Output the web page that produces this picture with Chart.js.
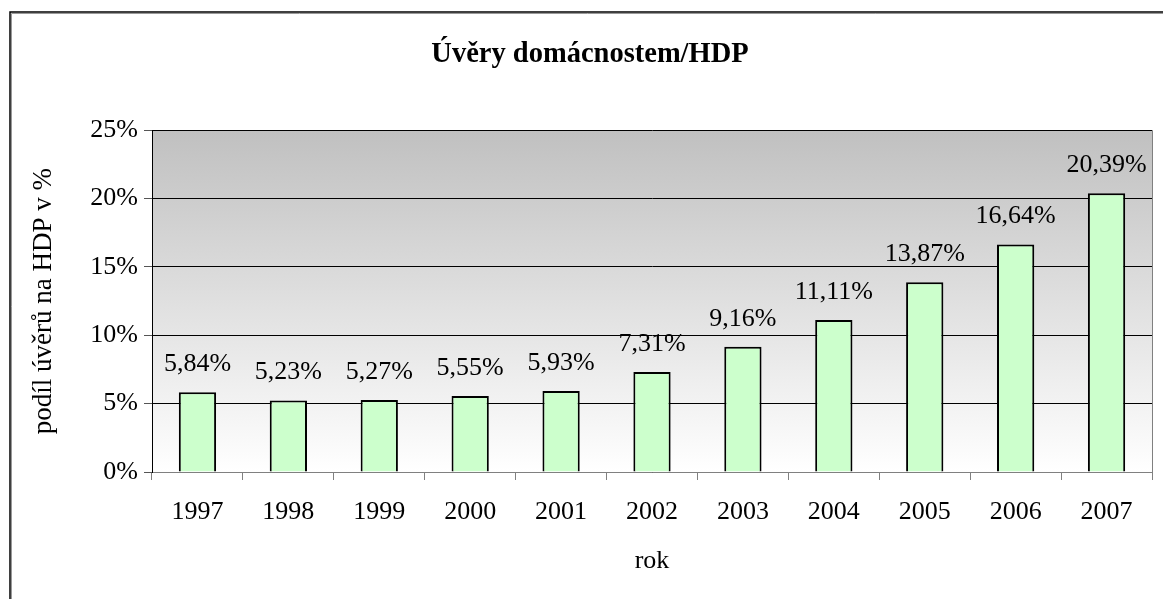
<!DOCTYPE html>
<html>
<head>
<meta charset="utf-8">
<script src="https://cdn.jsdelivr.net/npm/chart.js@4.4.0/dist/chart.umd.min.js"></script>
<style>
html, body { margin: 0; padding: 0; background: #fff; }
</style>
</head>
<body>
<canvas id="myChart" width="1163" height="599"></canvas>
<script>
let years = ['1997', '1998', '1999', '2000', '2001', '2002', '2003', '2004', '2005', '2006', '2007'];
let podil = [5.84, 5.23, 5.27, 5.55, 5.93, 7.31, 9.16, 11.11, 13.87, 16.64, 20.39];
let yMin = 0, yMax = 25, yStep = 5;

const serif = "'Liberation Serif', 'Times New Roman', serif";
Chart.defaults.font.family = serif;
Chart.defaults.color = '#000';

// background: outer frame + gray-to-white gradient in plot area
const bgPlugin = {
    id: 'bg',
    beforeDraw(chart) {
        const {ctx, chartArea: a} = chart;
        ctx.save();
        ctx.fillStyle = '#fff';
        ctx.fillRect(0, 0, chart.width, chart.height);
        let g = ctx.createLinearGradient(0, a.top, 0, a.bottom);
        g.addColorStop(0, '#c0c0c0');
        g.addColorStop(1, '#ffffff');
        ctx.fillStyle = g;
        ctx.fillRect(a.left, a.top, a.right - a.left, a.bottom - a.top);
        // outer frame
        ctx.strokeStyle = '#999';
        ctx.lineWidth = 1;
        ctx.beginPath();
        ctx.moveTo(11.5, chart.height + 5);
        ctx.lineTo(11.5, 13.5);
        ctx.lineTo(chart.width + 5, 13.5);
        ctx.stroke();
        ctx.strokeStyle = '#000';
        ctx.lineWidth = 1.5;
        ctx.beginPath();
        ctx.moveTo(10, chart.height + 5);
        ctx.lineTo(10, 12);
        ctx.lineTo(chart.width + 5, 12);
        ctx.stroke();
        ctx.restore();
    },
    afterDraw(chart) {
        const {ctx, chartArea: a} = chart;
        ctx.save();
        ctx.strokeStyle = '#808080';
        ctx.lineWidth = 1;
        ctx.beginPath();
        ctx.moveTo(a.right + 0.5, a.top);
        ctx.lineTo(a.right + 0.5, a.bottom);
        ctx.stroke();
        ctx.restore();
    }
};

// value labels above bars
const labelPlugin = {
    id: 'valLabels',
    afterDatasetsDraw(chart) {
        const {ctx} = chart;
        const meta = chart.getDatasetMeta(0);
        ctx.save();
        ctx.font = '26px ' + serif;
        ctx.fillStyle = '#000';
        ctx.textAlign = 'center';
        ctx.textBaseline = 'middle';
        meta.data.forEach((bar, i) => {
            let txt = podil[i].toFixed(2).replace('.', ',') + '%';
            ctx.fillText(txt, bar.x, bar.y - 28);
        });
        ctx.restore();
    }
};

const ctx = document.getElementById('myChart');
let myChart = new Chart(ctx, {
    type: 'bar',
    data: {
        labels: years,
        datasets: [{
            label: 'podíl úvěrů na HDP',
            data: podil,
            backgroundColor: '#ccffcc',
            borderColor: '#000',
            borderWidth: 2,
            barPercentage: 0.41,
            categoryPercentage: 1
        }]
    },
    options: {
        responsive: false,
        animation: false,
        layout: {padding: {left: 28, right: 11, top: 0, bottom: 0}},
        plugins: {
            legend: {display: false},
            tooltip: {enabled: false},
            title: {
                display: true,
                text: 'Úvěry domácnostem/HDP',
                color: '#000',
                font: {size: 28.5, weight: 'bold'},
                padding: {top: 38, bottom: 58}
            }
        },
        scales: {
            x: {
                offset: true,
                grid: {
                    offset: true,
                    drawOnChartArea: false,
                    color: '#808080',
                    tickLength: 8
                },
                border: {color: '#808080'},
                ticks: {font: {size: 26}, color: '#000', padding: 17, maxRotation: 0},
                title: {
                    display: true,
                    text: 'rok',
                    color: '#000',
                    font: {size: 26},
                    padding: {top: 0, bottom: 22}
                },
                afterFit(s) { s.height = 127; }
            },
            y: {
                min: yMin,
                max: yMax,
                ticks: {
                    stepSize: yStep,
                    font: {size: 26},
                    color: '#000',
                    padding: 6,
                    callback: v => v + '%'
                },
                grid: {color: '#000', tickColor: '#555', tickLength: 8},
                border: {color: '#000'},
                title: {
                    display: true,
                    text: 'podíl úvěrů na HDP v %',
                    color: '#000',
                    font: {size: 27},
                    padding: {top: 0, bottom: 0}
                },
                afterFit(s) { s.width = 124; }
            }
        }
    },
    plugins: [bgPlugin, labelPlugin]
});
</script>
</body>
</html>
